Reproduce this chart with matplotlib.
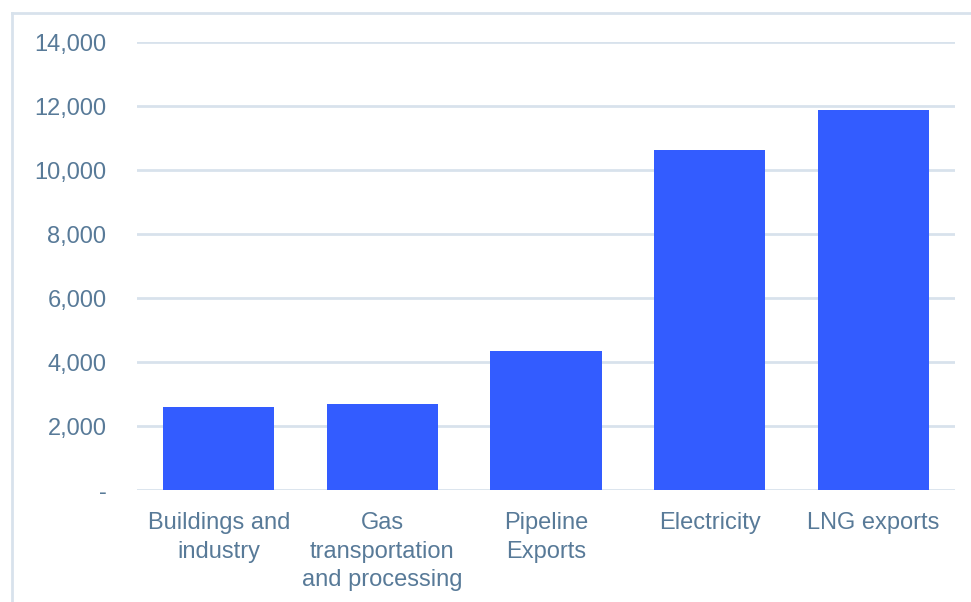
import matplotlib.pyplot as plt
from matplotlib.lines import Line2D
from matplotlib.ticker import FuncFormatter

categories = ["Buildings and\nindustry", "Gas\ntransportation\nand processing",
              "Pipeline\nExports", "Electricity", "LNG exports"]
values = [2600, 2700, 4350, 10630, 11870]
yticks = [0, 2000, 4000, 6000, 8000, 10000, 12000, 14000]

bar_color = "#335CFF"
text_color = "#587A98"
grid_color = "#D8E2EC"

plt.rcParams['font.family'] = ['Liberation Sans', 'DejaVu Sans']

fig = plt.figure(figsize=(9.71, 6.02), dpi=100)
ax = fig.add_axes([137 / 971, 1 - 490 / 602, 818 / 971, 448 / 602])

x = range(len(categories))
ax.bar(x, values, width=0.68, color=bar_color, zorder=3)

ax.set_xlim(-0.5, len(categories) - 0.5)
ax.set_ylim(0, 14000)
ax.set_yticks(yticks)
ax.yaxis.set_major_formatter(FuncFormatter(lambda v, p: "-" if v == 0 else "{:,.0f}".format(v)))
ax.set_xticks(list(x))
ax.set_xticklabels(categories, linespacing=1.38)

ax.grid(axis='y', color=grid_color, linewidth=2, zorder=0)
for s in ax.spines.values():
    s.set_visible(False)
ax.tick_params(axis='both', length=0, colors=text_color, labelsize=17)
ax.tick_params(axis='y', pad=22)
ax.tick_params(axis='x', pad=16)

# outer frame (left and top only visible)
fig.add_artist(Line2D([11.5 / 971, 11.5 / 971], [0, 1 - 13 / 602], color=grid_color, linewidth=2,
                      transform=fig.transFigure))
fig.add_artist(Line2D([11.5 / 971, 1], [1 - 13 / 602, 1 - 13 / 602], color=grid_color, linewidth=2,
                      transform=fig.transFigure))

fig.savefig("out.png", dpi=100)
